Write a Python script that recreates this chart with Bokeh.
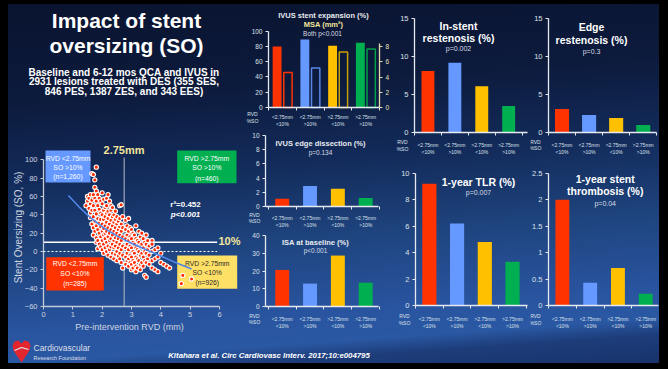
import math
from bokeh.plotting import figure
from bokeh.models import (Range1d, LinearAxis, FixedTicker, Label, BoxAnnotation,
                          Column, Row, CustomJSTickFormatter, NumeralTickFormatter)
from bokeh.embed import file_html
from bokeh.resources import INLINE

FONT = "Liberation Sans"
WHITE = "#ffffff"
TICK_TXT = "#dde2ea"
AXIS_COL = "#e6e9f0"
PALE = "#f3e59c"

# ---------------- data ----------------
groups = ["<2.75mm\n<10%", "<2.75mm\n>10%", ">2.75mm\n<10%", ">2.75mm\n>10%"]
group_colors = ["#ff3300", "#6699ff", "#ffc000", "#00b050"]
hollow_colors = ["#ff3300", "#5b86e6", "#c9a000", "#00a04a"]

stent_expansion = [80, 89, 81, 85]
msa_mm2 = [4.6, 5.2, 7.3, 7.7]
edge_dissection = [1.1, 2.9, 2.5, 1.2]
isa_baseline = [20.6, 12.9, 28.7, 13.4]
instent_restenosis = [8.1, 9.2, 6.1, 3.5]
edge_restenosis = [3.1, 2.3, 1.9, 1.0]
tlr_1yr = [9.2, 6.2, 4.8, 3.3]
st_1yr = [2.0, 0.43, 0.71, 0.22]

rvd_cut = 2.75
so_cut = 10
quad_n = ["(n=285)", "(n=1,260)", "(n=926)", "(n=460)"]

rvd_mm = [
    1.45,
    1.50, 1.50,
    1.55, 1.55,
    1.60, 1.60, 1.60, 1.60,
    1.65, 1.65, 1.65, 1.65,
    1.70, 1.70, 1.70, 1.70, 1.70, 1.70,
    1.75, 1.75, 1.75, 1.75, 1.75, 1.75,
    1.80, 1.80, 1.80, 1.80, 1.80, 1.80, 1.80,
    1.85, 1.85, 1.85, 1.85, 1.85, 1.85,
    1.90, 1.90, 1.90, 1.90, 1.90,
    1.95, 1.95, 1.95, 1.95, 1.95, 1.95,
    2.00, 2.00, 2.00, 2.00, 2.00, 2.00, 2.00,
    2.05, 2.05, 2.05, 2.05, 2.05, 2.05, 2.05,
    2.10, 2.10, 2.10, 2.10, 2.10, 2.10,
    2.15, 2.15, 2.15, 2.15, 2.15, 2.15, 2.15,
    2.20, 2.20, 2.20, 2.20, 2.20, 2.20, 2.20,
    2.25, 2.25, 2.25, 2.25, 2.25, 2.25,
    2.30, 2.30, 2.30, 2.30, 2.30, 2.30, 2.30,
    2.35, 2.35, 2.35, 2.35, 2.35, 2.35,
    2.40, 2.40, 2.40, 2.40, 2.40, 2.40,
    2.45, 2.45, 2.45, 2.45, 2.45, 2.45,
    2.50, 2.50, 2.50, 2.50, 2.50, 2.50,
    2.55, 2.55, 2.55, 2.55, 2.55,
    2.60, 2.60, 2.60, 2.60, 2.60, 2.60, 2.60,
    2.65, 2.65, 2.65, 2.65, 2.65, 2.65,
    2.70, 2.70, 2.70, 2.70, 2.70, 2.70,
    2.80, 2.80, 2.80, 2.80, 2.80, 2.80,
    2.85, 2.85, 2.85, 2.85, 2.85,
    2.90, 2.90, 2.90, 2.90, 2.90, 2.90,
    2.95, 2.95, 2.95, 2.95, 2.95,
    3.00, 3.00, 3.00, 3.00, 3.00, 3.00,
    3.05, 3.05, 3.05, 3.05, 3.05,
    3.10, 3.10, 3.10, 3.10,
    3.15, 3.15, 3.15, 3.15, 3.15, 3.15,
    3.20, 3.20, 3.20, 3.20,
    3.25, 3.25, 3.25, 3.25,
    3.30, 3.30, 3.30, 3.30, 3.30,
    3.35, 3.35, 3.35, 3.35,
    3.40, 3.40, 3.40, 3.40,
    3.45, 3.45, 3.45, 3.45,
    3.50, 3.50, 3.50, 3.50, 3.50,
    3.55, 3.55, 3.55,
    3.60, 3.60, 3.60,
    3.70, 3.70, 3.70, 3.70, 3.70,
    3.80, 3.80, 3.80,
    3.90, 3.90, 3.90,
    4.00, 4.00,
    4.10, 4.20, 4.30,
    4.70, 4.75, 5.05,
]
so_pct = [
    50,
    55, 60,
    58, 47,
    62, 52, 42, 37,
    85, 56, 45, 30,
    84, 62, 50, 38, 26, 18,
    78, 70, 58, 45, 33, 22,
    92, 66, 55, 41, 28, 15, 10,
    62, 50, 36, 24, 12, 3,
    58, 46, 31, 20, 8,
    55, 42, 35, 27, 16, 5,
    64, 52, 40, 30, 22, 12, 2,
    57, 45, 35, 25, 18, 8, -2,
    48, 38, 28, 20, 14, 4,
    58, 50, 42, 32, 22, 10, 0,
    62, 44, 36, 26, 16, 6, -4,
    55, 40, 30, 20, 12, 2,
    50, 45, 34, 24, 14, 5, -6,
    48, 38, 28, 18, 8, -2,
    40, 32, 22, 12, 4, -8,
    44, 35, 26, 15, 6, -3,
    38, 30, 20, 10, 0, -10,
    33, 24, 14, 4, -5,
    50, 36, 27, 18, 8, -2, -8,
    51, 30, 22, 12, 2, -12,
    38, 26, 16, 6, -4, -18,
    34, 24, 14, 4, -6, -14,
    28, 18, 8, -2, -10,
    36, 22, 12, 2, -8, -16,
    26, 16, 6, -4, -12,
    24, 14, 4, -6, -14, -20,
    20, 10, 0, -10, -18,
    18, 8, -2, -12,
    28, 14, 4, -6, -16, -22,
    12, 2, -8, -18,
    22, 10, 0, -10,
    16, 6, -4, -14, -20,
    20, 8, -2, -12,
    14, 4, -6, -16,
    10, 0, -10, -26,
    18, 8, -2, -12, -28,
    12, 2, -8,
    6, -4, -14,
    12, 8, 0, -10, -18,
    2, -8, -20,
    4, -6, -22,
    -2, -12,
    -14, -16, -18,
    -35, -26, -30,
]

fit_rvd = [0.85, 1.2, 1.6, 2.0, 2.5, 3.0, 3.5, 4.0, 4.5, 5.05]
fit_so = [61, 49, 37, 27, 17, 9, 2, -5, -12, -19]

x_ticks_rvd = [0, 1, 2, 3, 4, 5, 6]
y_ticks_so = [-60, -40, -20, 0, 20, 40, 60, 80, 100]

logo_x = [12, 14, 18, 21, 24, 28, 30, 29, 25, 21, 17, 13]
logo_y = [345, 341, 340, 343, 340, 341, 345, 350, 356, 362, 356, 350]


# ---------------- helpers ----------------
def make_fig(w, h, xr, yr, axes=True):
    kw = dict(width=w, height=h, x_range=xr, y_range=yr, output_backend="svg",
              toolbar_location=None, min_border_left=0, min_border_right=0,
              min_border_top=0, min_border_bottom=0)
    if not axes:
        kw["x_axis_type"] = None
        kw["y_axis_type"] = None
    p = figure(**kw)
    p.background_fill_alpha = 0
    p.border_fill_alpha = 0
    p.outline_line_color = None
    p.xgrid.visible = False
    p.ygrid.visible = False
    return p


def add_text(p, fx, fy, px, py, s, size, color=WHITE, style="normal",
             align="center", angle=0.0):
    p.add_layout(Label(x=fx(px), y=fy(py), text=s, text_font=FONT,
                       text_font_size=f"{size}px", text_color=color,
                       text_font_style=style, text_align=align,
                       text_baseline="middle", angle=angle))


def style_axis(ax, size, color=AXIS_COL, txt=TICK_TXT):
    ax.axis_line_color = color
    ax.axis_line_width = 1.3
    ax.major_label_text_font = FONT
    ax.major_label_text_font_size = f"{size}px"
    ax.major_label_text_color = txt
    ax.minor_tick_line_color = None
    ax.major_tick_line_color = color
    ax.major_tick_in = 0
    ax.major_tick_out = 3
    ax.major_label_standoff = 3


def style_cat_x(ax, standoff):
    style_axis(ax, 5)
    ax.ticker = FixedTicker(ticks=[i + 0.5 for i in range(len(groups))],
                            minor_ticks=list(range(len(groups) + 1)))
    ax.formatter = CustomJSTickFormatter(args=dict(labels=groups),
                                         code="return labels[Math.floor(tick)] || '';")
    ax.major_tick_line_color = None
    ax.major_tick_out = 0
    ax.minor_tick_line_color = AXIS_COL
    ax.minor_tick_in = 0
    ax.minor_tick_out = 3
    ax.major_label_standoff = standoff
    ax.major_label_text_line_height = 1.2


def page_mapper(fl, x_at_fl, xppu, fb, y_at_fb, yppu):
    def fx(px):
        return x_at_fl + (px - fl) / xppu

    def fy(py):
        return y_at_fb + (fb - py) / yppu
    return fx, fy


def bar_chart(ox, oy, w, h, fl, fr, fb, xs, xe, ppu, ymax, yticks, vals, bw,
              ysize, standoff, rvd_xy, titles, dodge=0.0, fmt=None):
    # axes are pinned at the data origin (fixed_location) so the frame fills
    # the whole figure and the small side texts are not clipped
    fx, fy = page_mapper(fl, xs, (fr - fl) / (xe - xs), fb, 0, ppu)
    p = make_fig(w, h, Range1d(fx(ox), fx(ox + w)), Range1d(fy(oy + h), fy(oy)))
    p.vbar(x=[i + 0.5 + dodge for i in range(len(vals))], top=vals, width=bw,
           fill_color=group_colors, line_color=None)
    ya = p.yaxis[0]
    style_axis(ya, ysize)
    ya.ticker = FixedTicker(ticks=yticks)
    ya.bounds = (0, ymax)
    ya.fixed_location = xs
    if fmt:
        ya.formatter = NumeralTickFormatter(format=fmt)
    xa = p.xaxis[0]
    style_cat_x(xa, standoff)
    xa.bounds = (xs, xe)
    xa.fixed_location = 0
    for s, px, py, size, style, color in titles:
        add_text(p, fx, fy, px, py, s, size, color=color, style=style)
    rx, ry1, ry2 = rvd_xy
    add_text(p, fx, fy, rx, ry1, "RVD", 5, color=TICK_TXT)
    add_text(p, fx, fy, rx, ry2, "%SO", 5, color=TICK_TXT)
    return p, fx, fy


# ---------------- title block ----------------
tp = make_fig(237, 132, Range1d(8, 245), Range1d(136, 4), axes=False)
ident = lambda v: v
add_text(tp, ident, ident, 126, 20, "Impact of stent", 21, style="bold")
add_text(tp, ident, ident, 126, 45, "oversizing (SO)", 21, style="bold")
add_text(tp, ident, ident, 123.5, 72, "Baseline and 6-12 mos QCA and IVUS in", 10, style="bold")
add_text(tp, ident, ident, 123.5, 81.3, "2931 lesions treated with DES (355 SES,", 10, style="bold")
add_text(tp, ident, ident, 123.5, 90.6, "846 PES, 1387 ZES, and 343 EES)", 10, style="bold")

# ---------------- scatter ----------------
sfx, sfy = page_mapper(43, 0, 29.33, 306, -60, 0.9169)
sp = make_fig(237, 199, Range1d(sfx(8), sfx(245)), Range1d(sfy(335), sfy(136)))

quad_boxes = [
    ((45.7, 256.7, 103.3, 290.0), group_colors[0], WHITE, 74.5, (263.3, 273.3, 283.3),
     ["RVD <2.75mm", "SO <10%", quad_n[0]]),
    ((45.0, 150.0, 90.0, 182.0), group_colors[1], WHITE, 67.5, (157.7, 166.7, 176.0),
     ["RVD <2.75mm", "SO >10%", quad_n[1]]),
    ((176.7, 255.0, 236.7, 288.3), "#ffe066", "#2a2a2a", 206.7, (262.7, 271.7, 281.7),
     ["RVD >2.75mm", "SO <10%", quad_n[2]]),
    ((176.7, 150.0, 236.0, 182.7), group_colors[3], WHITE, 206.3, (158.3, 167.3, 177.7),
     ["RVD >2.75mm", "SO >10%", quad_n[3]]),
]
for (l, t, r, b), fc, tc, cx, lys, lines in quad_boxes:
    sp.add_layout(BoxAnnotation(left=sfx(l), right=sfx(r), top=sfy(t), bottom=sfy(b),
                                fill_color=fc, fill_alpha=1.0, line_color=None,
                                level="underlay"))
    for s, ly in zip(lines, lys):
        add_text(sp, sfx, sfy, cx, ly, s, 6.8, color=tc)

sp.line([rvd_cut, rvd_cut], [-60, 102.5], line_color="#b8bcc6", line_width=1)
sp.line([0, 5.92], [so_cut, so_cut], line_color=WHITE, line_width=1.5)
sp.line([0, 5.92], [0, 0], line_color=WHITE, line_width=1, line_dash="2 2")
sp.scatter(rvd_mm, so_pct, size=4.2, fill_color="#ff2a00", line_color=WHITE, line_width=1.1)
sp.line(fit_rvd, fit_so, line_color="#4f86e8", line_width=1.6)

xa = sp.xaxis[0]
style_axis(xa, 7.5, color="#c4cad6", txt="#cfd5e0")
xa.ticker = FixedTicker(ticks=x_ticks_rvd)
xa.bounds = (0, 6)
xa.major_label_standoff = 2
xa.fixed_location = -60
ya = sp.yaxis[0]
style_axis(ya, 7.5, color="#c4cad6", txt="#cfd5e0")
ya.ticker = FixedTicker(ticks=y_ticks_so)
ya.bounds = (-60, 100)
ya.fixed_location = 0
add_text(sp, sfx, sfy, 129, 326, "Pre-intervention RVD (mm)", 9, color="#cfd5e0")
add_text(sp, sfx, sfy, 18, 227, "Stent Oversizing (SO, %)", 10, color="#cfd5e0",
         angle=math.pi / 2)

add_text(sp, sfx, sfy, 123.5, 149, "2.75mm", 11, color=PALE, style="bold")
add_text(sp, sfx, sfy, 229, 240, "10%", 11, color=PALE, style="bold")
add_text(sp, sfx, sfy, 185, 204, "r\u00b2=0.452", 8, style="bold")
add_text(sp, sfx, sfy, 185, 214, "p<0.001", 8, style="bold italic")

# ---------------- middle column ----------------
pA, fxA, fyA = bar_chart(
    245, 4, 150, 124, 268, 379, 107, 0, 4.0, (107 - 30.7) / 100, 100,
    [0, 20, 40, 60, 80, 100], stent_expansion, 0.32, 6.5, 3, (252, 113.3, 120.7),
    [("IVUS stent expansion (%)", 323, 15, 7.5, "bold", "#e8ebf0"),
     ("MSA (mm\u00b2)", 323, 24, 7.5, "bold", PALE),
     ("Both p<0.001", 322, 32.7, 6.5, "normal", "#d8dce4")],
    dodge=-0.19)
msa_ppu = (107 - 46.3) / 8
pA.extra_y_ranges = {"msa": Range1d((107 - 128) / msa_ppu, (107 - 4) / msa_ppu)}
ra = LinearAxis(y_range_name="msa")
style_axis(ra, 6.5, color="#e8dcaa", txt="#ece4bd")
ra.ticker = FixedTicker(ticks=[0, 2, 4, 6, 8])
ra.bounds = (0, 8.5)
ra.fixed_location = 4.0
pA.add_layout(ra, "right")
pA.vbar(x=[i + 0.5 + 0.2 for i in range(len(msa_mm2))], top=msa_mm2, width=0.3,
        y_range_name="msa", fill_alpha=0, line_color=hollow_colors, line_width=1.5)

pB, *_ = bar_chart(
    245, 128, 150, 99, 265, 378, 206, -0.1, 3.96, 7.1, 10,
    [0, 2, 4, 6, 8, 10], edge_dissection, 0.5, 6.5, 5, (254, 214.5, 220.5),
    [("IVUS edge dissection (%)", 320, 142.7, 7.5, "bold", "#e8ebf0"),
     ("p=0.134", 320, 151.7, 6.5, "normal", "#d8dce4")])

pC, *_ = bar_chart(
    245, 227, 150, 108, 265, 378, 306, -0.1, 3.96, 1.775, 40,
    [0, 10, 20, 30, 40], isa_baseline, 0.5, 6.5, 6, (254, 315, 321.7),
    [("ISA at baseline (%)", 315, 241.7, 7.5, "bold", "#e8ebf0"),
     ("p<0.001", 315, 250, 6.5, "normal", "#d8dce4")])

# ---------------- right grid ----------------
pD, *_ = bar_chart(
    395, 4, 135, 156, 414, 527, 132, 0, 4.2, 7.58, 15,
    [0, 5, 10, 15], instent_restenosis, 0.48, 7.5, 6, (402, 141.7, 148.3),
    [("In-stent", 458, 25, 10.5, "bold", WHITE),
     ("restenosis (%)", 458, 37.3, 10.5, "bold", WHITE),
     ("p=0.002", 458, 48.3, 7, "normal", "#d8dce4")])

pE, *_ = bar_chart(
    530, 4, 129, 156, 548, 656, 132, 0, 3.99, 7.58, 15,
    [0, 5, 10, 15], edge_restenosis, 0.52, 7.5, 6, (535, 141.7, 147.7),
    [("Edge", 591, 26.7, 10.5, "bold", WHITE),
     ("restenosis (%)", 591, 39.3, 10.5, "bold", WHITE),
     ("p=0.3", 591, 50.7, 7, "normal", "#d8dce4")])

pF, *_ = bar_chart(
    395, 160, 135, 175, 415, 527, 305, 0, 4.04, 13.23, 10,
    [0, 2, 4, 6, 8, 10], tlr_1yr, 0.51, 7.5, 7, (404, 315.3, 322.7),
    [("1-year TLR (%)", 478, 181, 10.5, "bold", WHITE),
     ("p=0.007", 478, 191.7, 7, "normal", "#d8dce4")])

pG, *_ = bar_chart(
    530, 160, 129, 175, 548, 658, 305, 0, 3.96, 52.9, 2.5,
    [0, 0.5, 1, 1.5, 2, 2.5], st_1yr, 0.5, 7.5, 7, (535, 315.3, 322.7),
    [("1-year stent", 604.7, 178.3, 10.5, "bold", WHITE),
     ("thrombosis (%)", 604.7, 190.7, 10.5, "bold", WHITE),
     ("p=0.04", 604.7, 202.7, 7, "normal", "#d8dce4")],
    fmt="0.[0]")

# ---------------- footer ----------------
fp = make_fig(651, 28, Range1d(8, 659), Range1d(363, 335), axes=False)
fp.patch(logo_x, logo_y, fill_color="#e3262e", line_color=None)
fp.line([14, 21, 28], [350, 347, 349], line_color="#dfe6f2", line_width=1.2)
add_text(fp, ident, ident, 33, 347, "Cardiovascular", 8.5, color="#dcdfe6", align="left")
add_text(fp, ident, ident, 33, 357.5, "Research Foundation", 5.5, color="#dcdfe6", align="left")
add_text(fp, ident, ident, 268.5, 355, "Kitahara et al. Circ Cardiovasc Interv. 2017;10:e004795",
         7.8, style="bold italic")

# ---------------- layout ----------------
left_col = Column(children=[tp, sp], spacing=0)
mid_col = Column(children=[pA, pB, pC], spacing=0)
right_col = Column(children=[Row(children=[pD, pE], spacing=0),
                             Row(children=[pF, pG], spacing=0)], spacing=0)
main_row = Row(children=[left_col, mid_col, right_col], spacing=0)
inner = Column(children=[main_row, fp], spacing=0, margin=(4, 9, 6, 8),
               styles={"background": "linear-gradient(176deg, #0a1430 0%, #0c1a3c 24%, "
                                      "#132c5c 45%, #1f4580 64%, #2954a0 82%, #2a58a3 89%, "
                                      "#1d3d7a 93%, #17336c 100%)"})
root = Column(children=[inner], spacing=0, styles={"background-color": "#000000"})

open("out.html", "w").write(file_html(root, INLINE))
